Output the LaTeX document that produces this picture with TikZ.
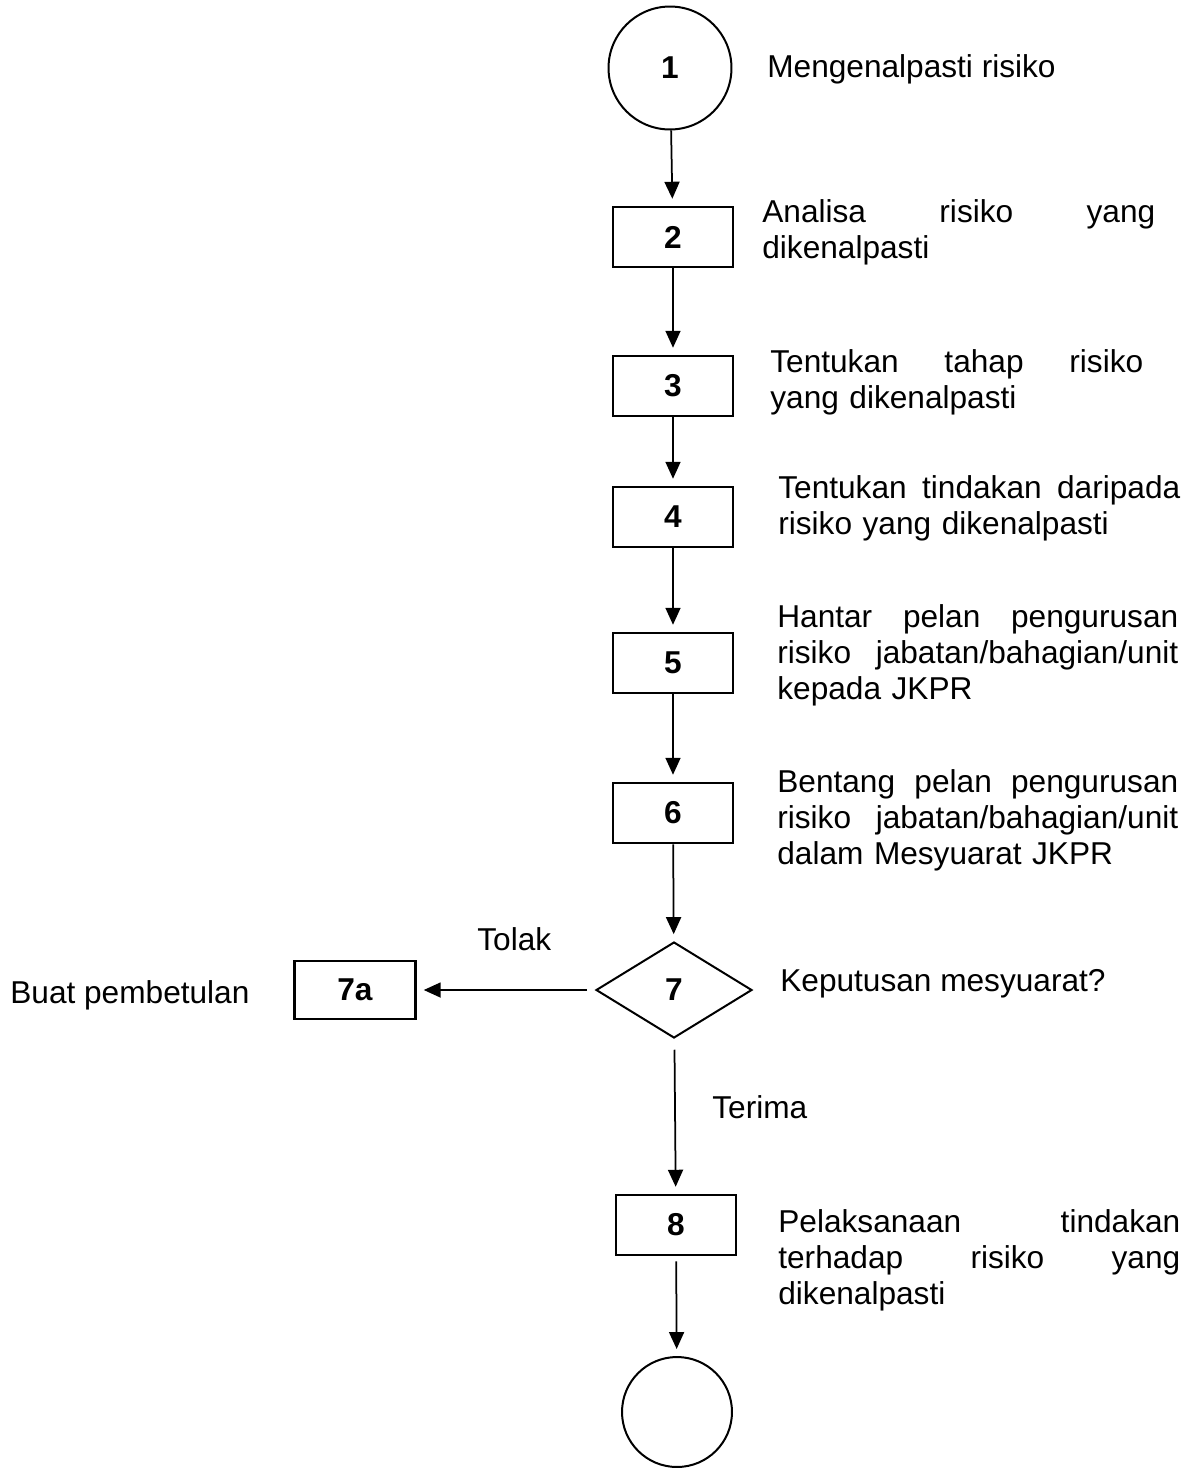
\documentclass[tikz,border=0pt]{standalone}
\usepackage{fontspec}
\setmainfont{Liberation Sans}
\usetikzlibrary{arrows.meta,shapes.geometric}
% one justified line of the given width
\newcommand{\jline}[2]{\makebox[#1][s]{\spaceskip=0.278em plus 1fil\relax #2}}
\tikzset{
  txt/.style={font=\fontsize{18}{20.7}\selectfont},
  stepbox/.style={
    draw, line width=0.05cm, inner sep=0pt,
    minimum width=2.4cm, minimum height=1.2cm,
    font=\fontsize{18}{20.7}\selectfont\bfseries,
  },
  terminal/.style={stepbox, circle, line width=0.04cm, minimum size=2.4cm},
  decision/.style={stepbox, diamond, line width=0.04cm, minimum width=3.12cm, minimum height=1.92cm},
  flow/.style={-{Triangle[length=0.34cm,width=0.3cm]}, line width=0.035cm, shorten >=0.14cm},
  note/.style={txt, anchor=base west, inner sep=0pt, align=left},
}

\begin{document}
\begin{tikzpicture}[x=0.02cm, y=-0.02cm]
\useasboundingbox (0,0) rectangle (1200,1468);

% ---- main chain -----------------------------------------------------------
\node[terminal, minimum size=2.46cm] (start) at (670,68) {1};
\node[stepbox]   (analyse)   at (673,237)  {2};
\node[stepbox]   (level)     at (673,386)  {3};
\node[stepbox]   (action)    at (673,517)  {4};
\node[stepbox]   (submit)    at (673,663)  {5};
\node[stepbox]   (table)     at (673,813)  {6};
\node[decision]  (decide)    at (674,990)  {7};
\node[stepbox, minimum width=2.42cm, minimum height=1.16cm] (fix) at (355,990) {7a};
\node[stepbox]   (implement) at (676,1225) {8};
\node[terminal, minimum size=2.2cm] (stop) at (677,1412) {};

\draw[flow] (start)   -- (analyse);
\draw[flow] (analyse) -- (level);
\draw[flow] (level)   -- (action);
\draw[flow] (action)  -- (submit);
\draw[flow] (submit)  -- (table);
\draw[flow] (table)   -- (decide);
\draw[flow, shorten <=0.16cm] (decide) -- (fix);
\draw[flow, shorten <=0.22cm] (decide) -- (implement);
\draw[flow, shorten <=0.1cm]  (implement) -- (stop);

% ---- step descriptions ----------------------------------------------------
\node[note] (startnote) at (767,77) {Mengenalpasti risiko};
\node[note, text width=7.86cm] (analysenote) at (762,222)
  {\jline{7.86cm}{Analisa risiko yang}\\dikenalpasti};
\node[note, text width=7.46cm] (levelnote) at (770,372)
  {\jline{7.46cm}{Tentukan tahap risiko}\\yang dikenalpasti};
\node[note, text width=8.04cm] (actionnote) at (778,498)
  {\jline{8.04cm}{Tentukan tindakan daripada}\\risiko yang dikenalpasti};
\node[note, text width=8.02cm] (submitnote) at (777,627)
  {\jline{8.02cm}{Hantar pelan pengurusan}\\\jline{8.02cm}{risiko jabatan/bahagian/unit}\\kepada JKPR};
\node[note, text width=8.02cm] (tablenote) at (777,792)
  {\jline{8.02cm}{Bentang pelan pengurusan}\\\jline{8.02cm}{risiko jabatan/bahagian/unit}\\dalam Mesyuarat JKPR};
\node[note] (decidenote) at (780,991) {Keputusan mesyuarat?};
\node[note] (fixnote) at (10,1003) {Buat pembetulan};
\node[note, text width=8.04cm] (implementnote) at (778,1232)
  {\jline{8.04cm}{Pelaksanaan tindakan}\\\jline{8.04cm}{terhadap risiko yang}\\dikenalpasti};

% ---- branch labels --------------------------------------------------------
\node[note] (tolak)  at (477,950)  {Tolak};
\node[note] (terima) at (712,1118) {Terima};

\end{tikzpicture}
\end{document}
